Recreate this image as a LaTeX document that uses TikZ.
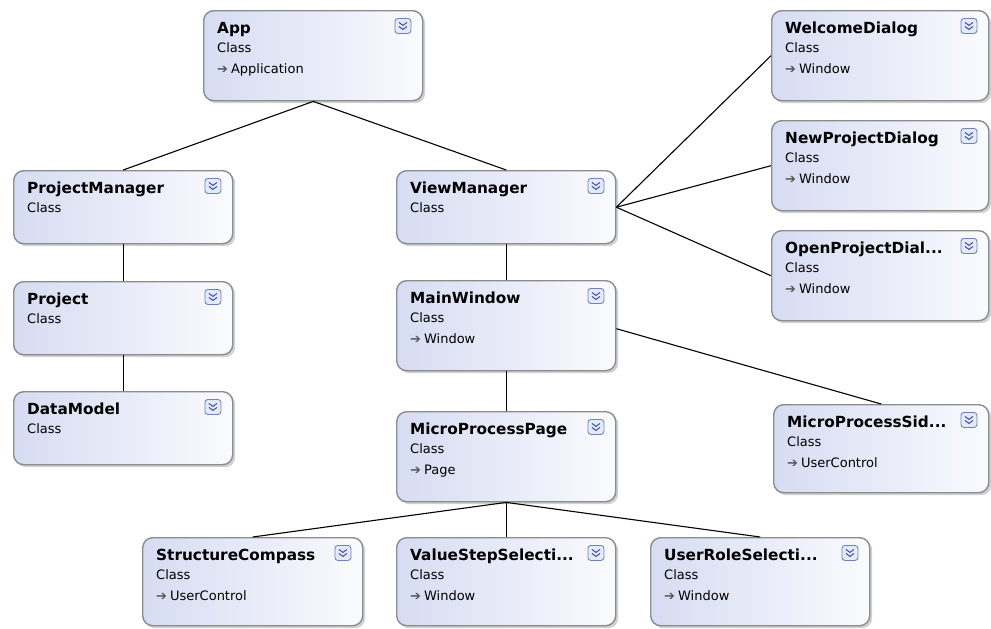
\documentclass[tikz,border=0pt]{standalone}
\usepackage{fontspec}
\setmainfont{DejaVu Sans}
\usetikzlibrary{shadows}
\definecolor{boxL}{RGB}{214,220,242}
\definecolor{boxR}{RGB}{250,251,254}
\definecolor{boxD}{RGB}{140,140,140}
\definecolor{icoB}{RGB}{110,130,185}
\definecolor{icoF}{RGB}{228,234,250}
\definecolor{icoC}{RGB}{60,80,160}
\tikzset{
  cls/.style={draw=boxD, line width=1.4pt, rounded corners=10pt, left color=boxL, right color=boxR,
    rectangle, inner sep=0pt, anchor=north west,
    drop shadow={shadow xshift=2.5pt, shadow yshift=-2.5pt, fill=black!40, opacity=.45}},
  ttl/.style={font=\fontsize{15.3}{18}\selectfont\bfseries, text=black, inner sep=0pt, anchor=base west},
  sub/.style={font=\fontsize{13}{15}\selectfont, text=black, inner sep=0pt, anchor=base west},
  ico/.style={draw=icoB, fill=icoF, line width=0.9pt, rounded corners=3pt, minimum width=16pt, minimum height=15pt, inner sep=0pt, anchor=north east},
  link/.style={draw=black, line width=1.1pt}
}
% name, x, y, w, h, title, base
\newcommand\cbox[7]{%
  \node[cls, minimum width=#4pt, minimum height=#5pt] (#1) at (#2,#3) {};
  \node[ttl] (#1t) at ([xshift=14pt,yshift=-23pt]#1.north west) {#6};
  \node[sub] (#1c) at ([xshift=14pt,yshift=-42pt]#1.north west) {Class};
  \node[ico] (#1i) at ([xshift=-12pt,yshift=-8pt]#1.north east) {};
  \draw[icoC, line width=1pt] ([xshift=-4pt,yshift=3.5pt]#1i.center) -- ([yshift=0.5pt]#1i.center) -- ([xshift=4pt,yshift=3.5pt]#1i.center)
     ([xshift=-4pt,yshift=-0.5pt]#1i.center) -- ([yshift=-3.5pt]#1i.center) -- ([xshift=4pt,yshift=-0.5pt]#1i.center);
  \ifx\relax#7\relax\else
  \node[sub] (#1b) at ([xshift=14pt,yshift=-63pt]#1.north west) {{\color{black!65}\char"2794}\hspace{3pt}#7};
  \fi
}
\begin{document}
\begin{tikzpicture}[x=1pt,y=-1pt]
\useasboundingbox (0,0) rectangle (991,629);
\cbox{app}{203}{10}{219}{90}{App}{Application}
\cbox{pm}{13}{170}{219}{73}{ProjectManager}{}
\cbox{vm}{396}{170}{219}{73}{ViewManager}{}
\cbox{pr}{13}{281}{219}{73}{Project}{}
\cbox{dm}{13}{391}{219}{73}{DataModel}{}
\cbox{mw}{396}{280}{219}{90}{MainWindow}{Window}
\cbox{mpp}{396}{411}{219}{90}{MicroProcessPage}{Page}
\cbox{sc}{142}{537}{220}{88}{StructureCompass}{UserControl}
\cbox{vs}{396}{537}{219}{88}{ValueStepSelecti...}{Window}
\cbox{ur}{650}{537}{219}{88}{UserRoleSelecti...}{Window}
\cbox{wd}{771}{10}{217}{90}{WelcomeDialog}{Window}
\cbox{np}{771}{120}{217}{90}{NewProjectDialog}{Window}
\cbox{op}{771}{230}{217}{90}{OpenProjectDial...}{Window}
\cbox{ms}{773}{404}{215}{88}{MicroProcessSid...}{UserControl}
\draw[link] (app.south) -- (pm.north);
\draw[link] (app.south) -- (vm.north);
\draw[link] (pm.south) -- (pr.north);
\draw[link] (pr.south) -- (dm.north);
\draw[link] (vm.south) -- (mw.north);
\draw[link] (mw.south) -- (mpp.north);
\draw[link] (vm.east) -- (wd.west);
\draw[link] (vm.east) -- (np.west);
\draw[link] (vm.east) -- (op.west);
\draw[link] ([yshift=-3pt]mw.east) -- (ms.north);
\draw[link] (mpp.south) -- (sc.north);
\draw[link] (mpp.south) -- (vs.north);
\draw[link] (mpp.south) -- (ur.north);
\end{tikzpicture}
\end{document}
